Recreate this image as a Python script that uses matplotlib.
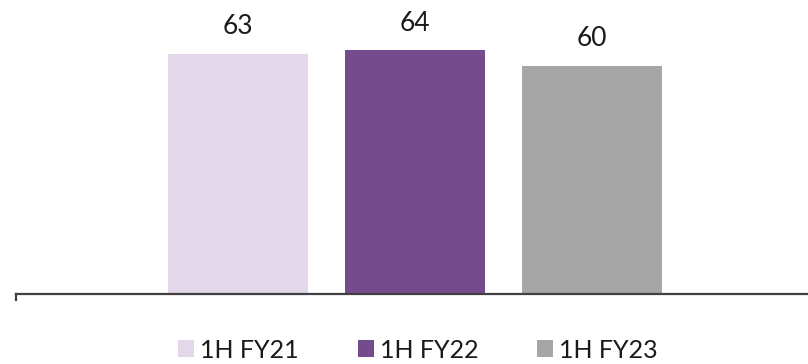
"""Half-year comparison bar chart (1H FY21 - 1H FY23)."""

import matplotlib

matplotlib.use("Agg")
import matplotlib.pyplot as plt
import numpy as np

periods = ["1H FY21", "1H FY22", "1H FY23"]
values = [63, 64, 60]
colors = ["#E2D8EA", "#744C8E", "#A6A6A6"]

plt.rcParams["font.family"] = ["Lato", "DejaVu Sans"]

fig = plt.figure(figsize=(8.08, 3.64), dpi=100)
# axes spans from the baseline (y=294px) up to the top edge, x from 16px to the right edge
ax = fig.add_axes([16 / 808, 70 / 364, 792 / 808, 294 / 364])

x = np.arange(len(periods))
bars = ax.bar(x, values, width=0.79, color=colors, label=periods, zorder=2)

for b, v in zip(bars, values):
    ax.annotate(
        f"{v}",
        (b.get_x() + b.get_width() / 2, v),
        xytext=(0, 10.5),
        textcoords="offset points",
        ha="center",
        va="bottom",
        fontsize=19,
        color="#1a1a1a",
    )

ax.set_xlim(-1.254, 3.22)
ax.set_ylim(0, 77.2)

for side in ["top", "right", "left"]:
    ax.spines[side].set_visible(False)
ax.spines["bottom"].set_color("#404040")
ax.spines["bottom"].set_linewidth(1.6)
ax.set_yticks([])
ax.set_xticks([])

# small tick at the left end of the baseline
ax.plot([-1.254, -1.254], [0, -1.6], color="#404040", lw=1.6, clip_on=False)

leg = fig.legend(
    handles=bars,
    labels=periods,
    loc="center",
    bbox_to_anchor=(418 / 808, 1 - 350 / 364),
    ncol=3,
    frameon=False,
    fontsize=18,
    handlelength=0.64,
    handleheight=0.64,
    handletextpad=0.25,
    columnspacing=2.35,
)
for t in leg.get_texts():
    t.set_color("#1a1a1a")

fig.savefig("out.png", dpi=100)
